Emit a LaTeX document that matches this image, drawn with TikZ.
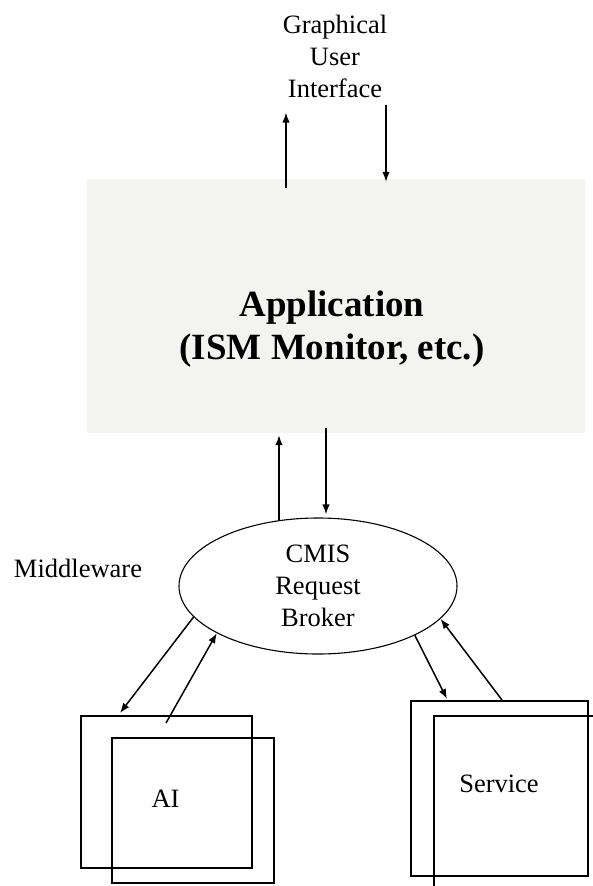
\documentclass[tikz,border=0pt]{standalone}
\usepackage{fontspec}
\setmainfont{Liberation Serif}
\usetikzlibrary{arrows.meta,shapes.geometric}
\definecolor{appfill}{RGB}{243,243,242}
\tikzset{
  plaintext/.style={align=center, inner sep=0pt, font=\fontsize{26.5}{32}\selectfont},
  apptext/.style={align=center, inner sep=0pt, font=\fontsize{37}{43}\selectfont\bfseries},
  appbox/.style={rectangle, fill=appfill, minimum width=498pt, minimum height=254pt, inner sep=0pt},
  brokershape/.style={ellipse, draw, line width=1.1pt, minimum width=278pt, minimum height=136pt, inner sep=0pt, align=center, font=\fontsize{26.5}{32}\selectfont},
  agentbox/.style={rectangle, draw, line width=1.6pt, inner sep=0pt, anchor=north west},
  flow/.style={-{Latex[length=10pt,width=7.5pt]}, line width=1.5pt}
}

\begin{document}
\begin{tikzpicture}[x=1pt, y=-1pt]
  \useasboundingbox (0,0) rectangle (593,886);
  \clip (0,0) rectangle (593,886);

  \node[plaintext] (gui) at (335,56) {Graphical\\User\\Interface};
  \node[appbox] (app) at (336,306) {};
  \node[apptext] (appname) at (332,329) {Application\\(ISM Monitor, etc.)};
  \node[plaintext] (mw) at (78,568) {Middleware};
  \node[brokershape] (broker) at (318,586) {CMIS\\Request\\Broker};

  \node[agentbox, minimum width=171pt, minimum height=152pt] (ai1) at (80,715) {};
  \node[agentbox, minimum width=162pt, minimum height=145pt] (ai2) at (111,737) {};
  \node[plaintext] (ai) at (165.5,799) {AI};
  \node[agentbox, minimum width=177pt, minimum height=175pt] (svc1) at (410,700) {};
  \node[agentbox, minimum width=200pt, minimum height=200pt] (svc2) at (433,715) {};
  \node[plaintext] (svc) at (499,784) {Service};

  \draw[flow] ([xshift=-50pt,yshift=-9pt]app.north) -- ([xshift=-49pt,yshift=-15pt]gui.south);
  \draw[flow] ([xshift=51pt,yshift=-7pt]gui.south) -- ([xshift=50pt,yshift=-3pt]app.north);
  \draw[flow] ([xshift=-39pt,yshift=-3pt]broker.north) -- ([xshift=-57pt,yshift=-2pt]app.south);
  \draw[flow] ([xshift=-10pt,yshift=5pt]app.south) -- ([xshift=8pt,yshift=3pt]broker.north);
  \draw[flow] (broker.194) -- ([xshift=40pt,yshift=2pt]ai1.north west);
  \draw[flow] ([xshift=86pt,yshift=-8pt]ai1.north west) -- (broker.205);
  \draw[flow] (broker.333) -- ([xshift=37pt,yshift=1pt]svc1.north west);
  \draw[flow] ([xshift=92pt]svc1.north west) -- (broker.345);
\end{tikzpicture}
\end{document}
